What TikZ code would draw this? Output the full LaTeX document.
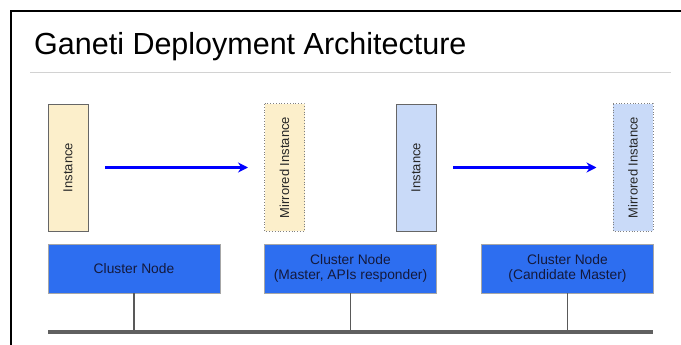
\documentclass[tikz,border=0pt]{standalone}
\usepackage{fontspec}
\setmainfont{Liberation Sans}
\usepackage{tikz}
\usetikzlibrary{arrows.meta}
\definecolor{instyellow}{RGB}{252,239,203}
\definecolor{instblue}{RGB}{201,218,248}
\definecolor{nodeblue}{RGB}{45,110,240}
\definecolor{nodetext}{RGB}{20,25,60}
\tikzset{
	inst/.style={draw=gray!80!black, line width=0.8pt, rotate=90, minimum width=127pt, minimum height=40pt, inner sep=0pt, font=\fontsize{13}{15}\selectfont, text=black!85},
	mirror/.style={inst, draw=gray, dotted, line width=1pt},
	cnode/.style={draw=gray!70, line width=0.8pt, fill=nodeblue, minimum width=172pt, minimum height=49pt, inner sep=0pt, align=center, font=\fontsize{13.8}{15}\selectfont, text=nodetext},
	repl/.style={-{Stealth[length=10pt,width=10pt]}, blue, line width=2.4pt, shorten <=17pt, shorten >=16pt},
	stem/.style={gray!70!black, line width=1.2pt}
}
\begin{document}
\begin{tikzpicture}[x=1pt,y=-1pt] % coordinates in pixels of the picture
				\useasboundingbox (0,0) rectangle (681,345);
				\draw[line width=2pt] (11,345) -- (11,11) -- (681,11);
				\node[anchor=base west, inner sep=0pt, font=\fontsize{30.5}{34}\selectfont] (title) at (34,55) {Ganeti Deployment Architecture};
				\draw[gray!35, line width=1pt] (30,72.5) -- (671,72.5);
				\node[inst, fill=instyellow] (inst1) at (68,167.5) {Instance};
				\node[mirror, fill=instyellow] (mir1) at (284.5,167.5) {Mirrored Instance};
				\node[inst, fill=instblue] (inst2) at (416,167.5) {Instance};
				\node[mirror, fill=instblue] (mir2) at (633,167.5) {Mirrored Instance};
				\draw[repl] (inst1) -- (mir1);\draw[repl] (inst2) -- (mir2);
				\node[cnode] (cn1) at (134,268.5) {Cluster Node};
				\node[cnode] (cn2) at (350.5,268.5) {Cluster Node\\(Master, APIs responder)};
				\node[cnode] (cn3) at (567.5,268.5) {Cluster Node\\(Candidate Master)};
				\node[fill=gray!75!black, minimum width=605pt, minimum height=4pt, inner sep=0pt] (bus) at (350.5,332) {};
				\draw[stem] (cn1.south) -- (cn1.south |- bus.north);
				\draw[stem] (cn2.south) -- (cn2.south |- bus.north);
				\draw[stem] (cn3.south) -- (cn3.south |- bus.north);
			\end{tikzpicture}
\end{document}
